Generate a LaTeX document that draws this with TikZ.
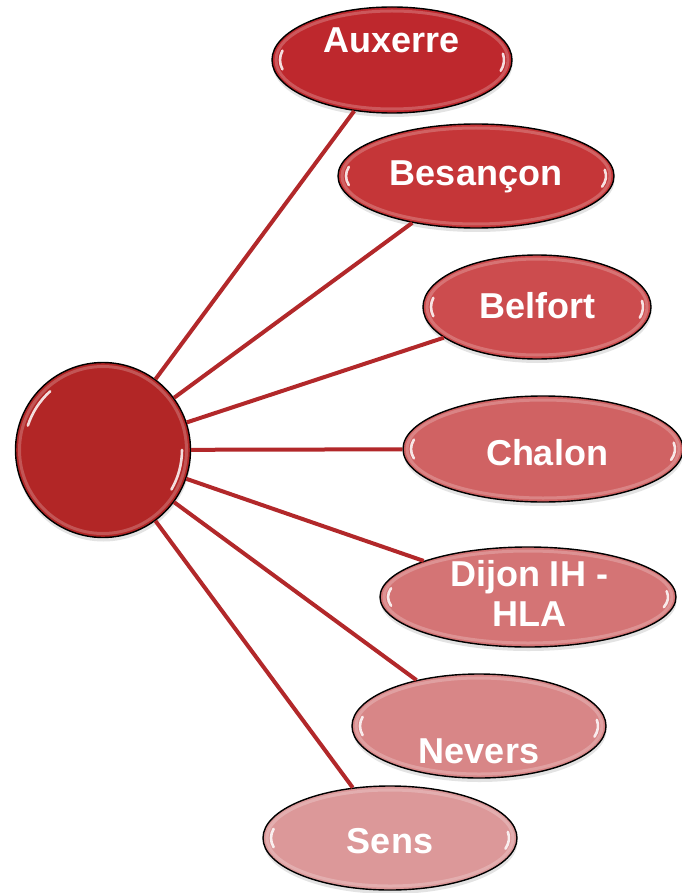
\documentclass[tikz,border=0pt]{standalone}
\usepackage{fontspec}
\setmainfont{Liberation Sans}
\usetikzlibrary{shapes.geometric,shadows}
\definecolor{cCenter}{RGB}{178,38,38}
\definecolor{cLine}{RGB}{178,40,42}
\definecolor{cA}{RGB}{190,40,45}
\definecolor{cB}{RGB}{197,54,56}
\definecolor{cC}{RGB}{204,76,78}
\definecolor{cD}{RGB}{208,98,99}
\definecolor{cE}{RGB}{212,116,117}
\definecolor{cF}{RGB}{216,134,135}
\definecolor{cG}{RGB}{220,152,153}
\tikzset{
  bubble/.style={ellipse, draw=black, line width=1.4pt, inner sep=0pt,
    drop shadow={opacity=0.22, shadow xshift=0.5pt, shadow yshift=-4pt}},
  rim/.style={white, opacity=0.22, line width=3pt},
  hl/.style={white, opacity=0.85, line width=2.6pt, line cap=round},
  lbl/.style={text=white, font=\fontsize{36}{40}\selectfont\bfseries, inner sep=0pt, align=center},
  link/.style={cLine, line width=4pt}
}
\newcommand\glossy[6]{%
  \node[bubble, fill=#6, minimum width=2*#4, minimum height=2*#5] (#1) at (#2,#3) {};
  \pgfmathsetmacro\gRx{#4-4}\pgfmathsetmacro\gRy{#5-4}%
  \draw[rim] (#2,#3) ellipse[x radius=\gRx, y radius=\gRy];
  \pgfmathsetmacro\gRx{#4-8}\pgfmathsetmacro\gRy{#5-8}%
  \draw[hl] (#2,#3) ++(168:\gRx\space and \gRy) arc[start angle=168, end angle=192, x radius=\gRx, y radius=\gRy];
  \draw[hl] (#2,#3) ++(-8:\gRx\space and \gRy) arc[start angle=-8, end angle=14, x radius=\gRx, y radius=\gRy];
}
\begin{document}
\begin{tikzpicture}[x=1pt,y=-1pt]
\useasboundingbox[fill=white] (0,0) rectangle (681,893);
% central circle
\node[bubble, circle, fill=cCenter, minimum size=175] (hub) at (103,450) {};
\draw[rim] (hub.center) circle[radius=83.5];
\draw[hl] (hub.center) ++(198:79) arc[start angle=198, end angle=228, radius=79];
\draw[hl] (hub.center) ++(0:79) arc[start angle=0, end angle=30, radius=79];
% satellites
\glossy{aux}{392}{60}{120}{53}{cA}
\glossy{bes}{476}{176}{138}{52}{cB}
\glossy{bel}{537}{307}{114}{52}{cC}
\glossy{cha}{543}{449}{140}{53}{cD}
\glossy{dij}{528}{597}{148}{50}{cE}
\glossy{nev}{479}{726}{127}{52}{cF}
\glossy{sen}{390}{838}{127}{52}{cG}
% links
\foreach \t in {aux,bes,bel,cha,dij,nev,sen}
  \draw[link] (hub) -- (\t);
% labels
\node[lbl, anchor=base] (taux) at (392,53) {Auxerre};
\node[lbl, anchor=base] (tbes) at (476,186) {Besançon};
\node[lbl, anchor=base] (tbel) at (537,318) {Belfort};
\node[lbl, anchor=base] (tcha) at (547,465) {Chalon};
\node[lbl] (tdij) at (529,593) {Dijon IH -\\HLA};
\node[lbl, anchor=base] (tnev) at (479,763) {Nevers};
\node[lbl, anchor=base] (tsen) at (390,853) {Sens};
\end{tikzpicture}
\end{document}
